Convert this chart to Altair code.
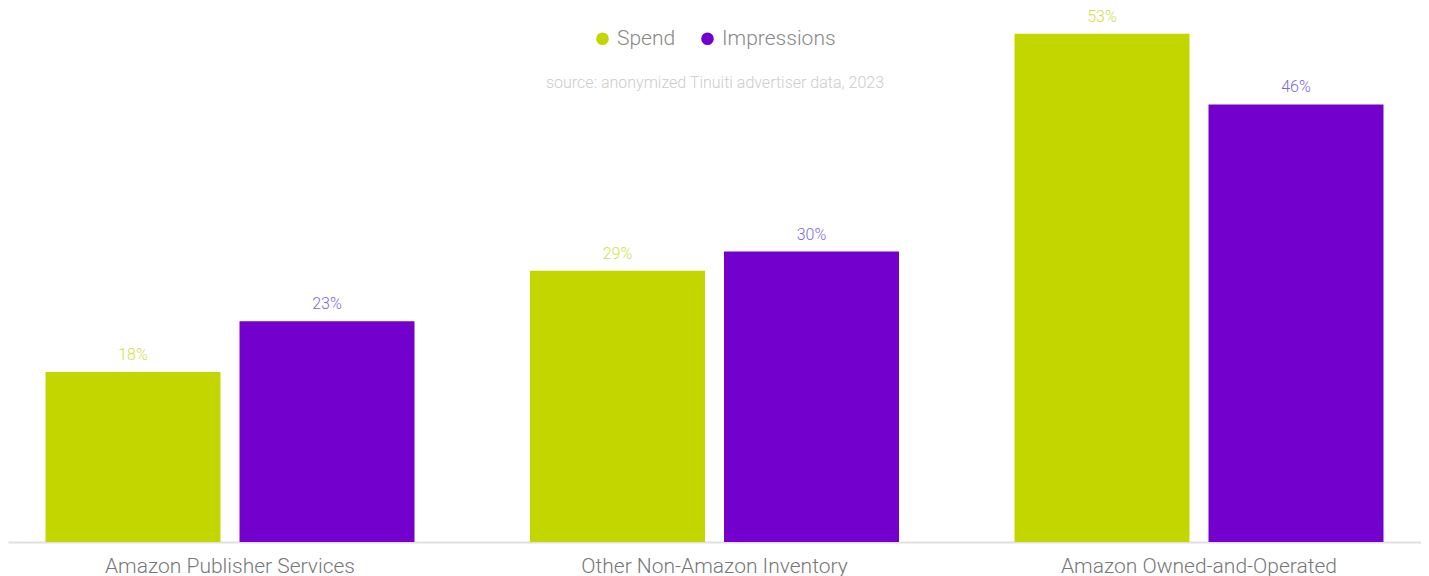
import altair as alt
import pandas as pd

categories = ["Amazon Publisher Services", "Other Non-Amazon Inventory", "Amazon Owned-and-Operated"]
series = ["Spend", "Impressions"]
spend = [0.178, 0.284, 0.532]
impressions = [0.231, 0.304, 0.458]
spend_labels = ["18%", "29%", "53%"]
impr_labels = ["23%", "30%", "46%"]
bar_colors = ["#c4d600", "#7300cc"]
label_colors = ["#d2de48", "#7b68e0"]
source_text = "source: anonymized Tinuiti advertiser data, 2023"

rows = []
for i, c in enumerate(categories):
    rows.append({"cat": c, "series": "Spend", "value": spend[i], "label": spend_labels[i], "lc": label_colors[0]})
    rows.append({"cat": c, "series": "Impressions", "value": impressions[i], "label": impr_labels[i], "lc": label_colors[1]})
df = pd.DataFrame(rows)

FONT = "Roboto"

x = alt.X("cat:N", sort=categories,
          scale=alt.Scale(paddingInner=0.2384, paddingOuter=0.0774),
          axis=alt.Axis(title=None, ticks=False, domainColor="#e0e0e0", domainWidth=2,
                        labelFont=FONT, labelFontWeight=300, labelFontSize=21, labelLimit=0,
                        labelColor="#777777", labelPadding=13, labelAngle=0))
xo = alt.XOffset("series:N", sort=series, scale=alt.Scale(domain=series, paddingInner=0.098, paddingOuter=0))
y = alt.Y("value:Q", scale=alt.Scale(domain=[0, 0.559], nice=False), axis=None)

bars = alt.Chart(df).mark_bar().encode(
    x=x, xOffset=xo, y=y,
    color=alt.Color("series:N", sort=series,
                    scale=alt.Scale(domain=series, range=bar_colors),
                    legend=alt.Legend(title=None, orient="none", legendX=584, legendY=20,
                                      direction="horizontal", symbolType="circle",
                                      symbolSize=160, symbolStrokeWidth=0,
                                      labelFont=FONT, labelFontWeight=300, labelFontSize=21,
                                      labelColor="#888888", columnPadding=21, labelOffset=4))
)

labels = alt.Chart(df).mark_text(baseline="bottom", dy=-9, font=FONT, fontWeight=300, fontSize=16).encode(
    x=x, xOffset=xo, y=y, text="label:N",
    color=alt.Color("lc:N", scale=None)
)

src = alt.Chart(pd.DataFrame({"t": [source_text]})).mark_text(
    font=FONT, fontWeight=300, fontSize=16, color="#cccccc", align="center", baseline="middle"
).encode(x=alt.value(707), y=alt.value(75), text="t:N")

chart = alt.layer(bars, labels, src).properties(
    width=1413, height=534,
    padding=0
).configure_view(stroke=None)

chart.save("out.html", embed_options={"renderer": "svg", "actions": False})
